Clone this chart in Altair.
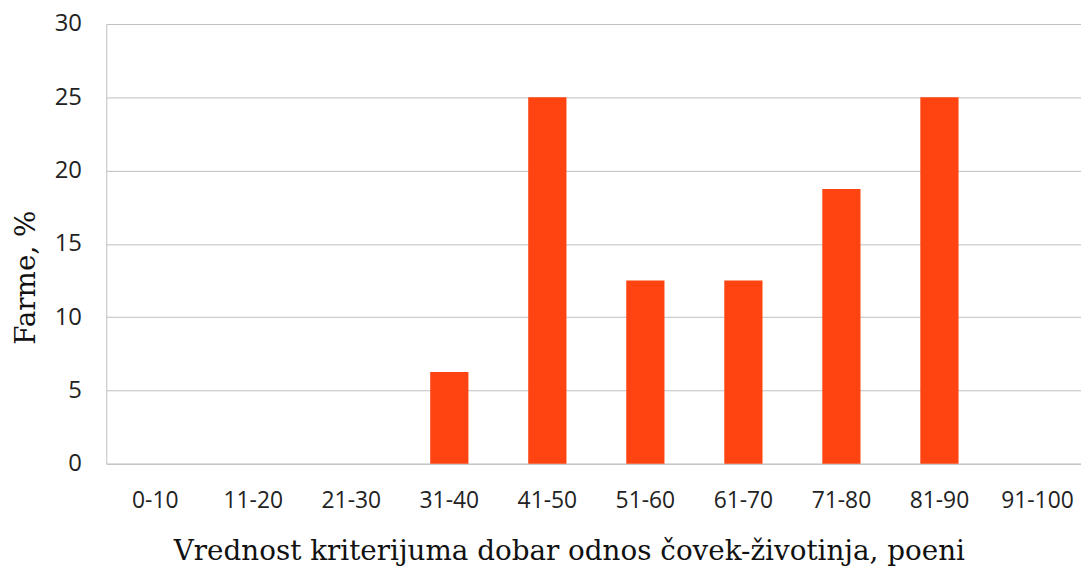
import altair as alt
import pandas as pd

categories = ["0-10", "11-20", "21-30", "31-40", "41-50", "51-60", "61-70", "71-80", "81-90", "91-100"]
values = [0, 0, 0, 6.25, 25, 12.5, 12.5, 18.75, 25, 0]

df = pd.DataFrame({"cat": categories, "val": values})

chart = alt.Chart(df).mark_bar(color="#FF4411").encode(
    x=alt.X("cat:N", sort=categories,
            scale=alt.Scale(paddingInner=0.61, paddingOuter=0.277, align=0.55),
            axis=alt.Axis(title="Vrednost kriterijuma dobar odnos čovek-životinja, poeni",
                          labelAngle=0, labelFont="Open Sans", labelFontSize=23,
                          labelColor="#222222", labelPadding=37, labelBaseline="middle",
                          ticks=False, domainColor="#bfbfbf", titleFont="DejaVu Serif",
                          titleFontSize=28, titleFontWeight="normal", titleColor="#111111",
                          titleX=466, titleY=89, titleBaseline="middle", titleAlign="center")),
    y=alt.Y("val:Q", scale=alt.Scale(domain=[0, 30]),
            axis=alt.Axis(title="Farme, %", values=[0, 5, 10, 15, 20, 25, 30],
                          labelFont="Open Sans", labelFontSize=24, labelColor="#222222",
                          labelPadding=25, ticks=False, domainColor="#bfbfbf",
                          gridColor="#c0c0c0", titleFont="DejaVu Serif", titleFontSize=28,
                          titleFontWeight="normal", titleColor="#111111",
                          titleX=-80, titleY=255, titleAngle=270, titleBaseline="middle",
                          titleAlign="center")),
).properties(
    width=982, height=443,
    autosize=alt.AutoSizeParams(type="none"),
    padding={"left": 99, "top": 14, "right": 0, "bottom": 108},
).configure_view(stroke=None)

chart.save("out.html", embed_options={"renderer": "svg", "actions": False})
